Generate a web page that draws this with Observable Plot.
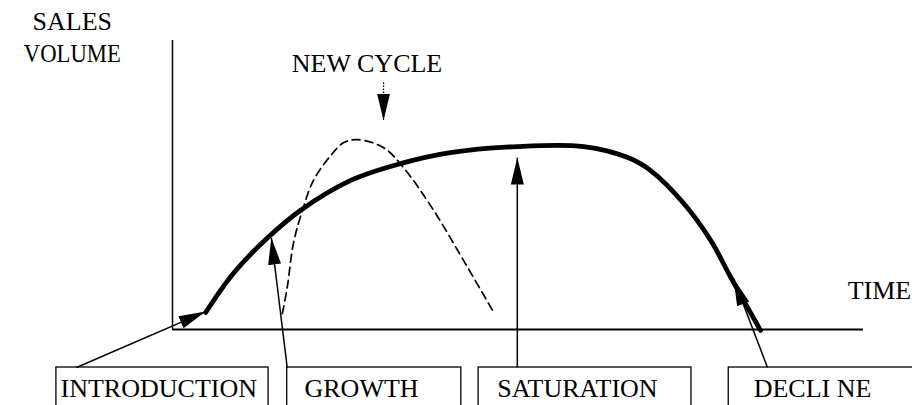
<!DOCTYPE html>
<html>
<head>
<meta charset="utf-8">
<script src="https://cdn.jsdelivr.net/npm/d3@7"></script>
<script src="https://cdn.jsdelivr.net/npm/@observablehq/plot@0.6"></script>
<style>
  html, body { margin: 0; padding: 0; background: #fff; }
  #chart svg { display: block; }
</style>
</head>
<body>
<div id="chart"></div>
<script>
// Product life cycle: time (0–100) vs sales volume (0–100)
const lifeTime  = [4.8, 8.8, 13.8, 18.5, 25.8, 33.0, 40.2, 49.9, 59.5, 65.9, 69.2, 74.0, 77.9, 80.8, 85.1];
const lifeSales = [5.9, 19.4, 31.8, 41.2, 51.6, 57.4, 61.2, 63.3, 63.3, 59.5, 55.0, 43.6, 30.8, 18.0, -0.3];

// New (replacement) cycle, dashed
const newTime  = [15.9, 16.6, 17.5, 18.8, 20.4, 22.9, 24.8, 26.8, 30.5, 33.4, 37.8, 42.7, 46.5];
const newSales = [5.5, 14.5, 29.8, 41.2, 51.6, 60.2, 64.7, 65.7, 63.0, 56.1, 41.2, 21.5, 5.9];

// Stages (boxes below the time axis)
const stages      = ["INTRODUCTION", "GROWTH", "SATURATION", "DECLI NE"];
const stageStart  = [-16.8, 16.6, 44.3, 80.5];
const stageEnd    = [13.9, 41.8, 75.1, 110];
const stageLabelX = [-16.2, 19.1, 47.0, 84.1];
const boxTop = -13.15, boxBottom = -32, labelSales = -23.2;

// Pointer arrows from each box to the curve
const arrowFromX = [-13.9, 16.6, 49.9, 86.1];
const arrowToX   = [4.8, 14.3, 49.9, 81.2];
const arrowToY   = [6.2, 31.8, 59.5, 17.6];

// Annotations
const axisLabels = [
  {text: "SALES\nVOLUME", t: -14.5, s: 92.4},
  {text: "NEW CYCLE", t: 28.15, s: 89.0},
  {text: "TIME", t: 102.3, s: 10.7}
];
const newCycleArrow = {t: 30.54, from: 85.5, to: 72.3};

const life = lifeTime.map((t, i) => ({t, s: lifeSales[i]}));
const newCycle = newTime.map((t, i) => ({t, s: newSales[i]}));
const boxes = stages.map((name, i) => ({name, x1: stageStart[i], x2: stageEnd[i], lx: stageLabelX[i]}));
const pointers = stages.map((name, i) => ({x1: arrowFromX[i], y1: boxTop, x2: arrowToX[i], y2: arrowToY[i]}));

const serif = "'Liberation Serif', 'Times New Roman', 'DejaVu Serif', serif";

const chart = Plot.plot({
  width: 912,
  height: 405,
  margin: 0,
  x: {domain: [0, 100], range: [172, 863], axis: null},
  y: {domain: [0, 100], range: [329, 40], axis: null},
  style: {fontFamily: serif, background: "#fff", color: "#000"},
  marks: [
    // axes
    Plot.ruleX([0], {y1: 0, y2: 100, stroke: "#000", strokeWidth: 1.5}),
    Plot.ruleY([0], {x1: 0, x2: 100, stroke: "#000", strokeWidth: 1.8}),
    // new cycle (dashed)
    Plot.line(newCycle, {x: "t", y: "s", curve: "catmull-rom", stroke: "#000", strokeWidth: 1.7, strokeDasharray: "8,5"}),
    // main life cycle curve
    Plot.line(life, {x: "t", y: "s", curve: "catmull-rom", stroke: "#000", strokeWidth: 4.8}),
    // stage boxes
    Plot.rect(boxes, {x1: "x1", x2: "x2", y1: boxBottom, y2: boxTop, fill: "none", stroke: "#000", strokeWidth: 1.3}),
    Plot.text(boxes, {x: "lx", y: labelSales, text: "name", textAnchor: "start", lineAnchor: "bottom", fontSize: 26, fill: "#000"}),
    // pointer arrows
    Plot.link(pointers, {x1: "x1", y1: "y1", x2: "x2", y2: "y2", stroke: "#000", strokeWidth: 1.5, markerEnd: "arrow"}),
    Plot.link([newCycleArrow], {x1: "t", x2: "t", y1: "from", y2: "to", stroke: "#000", strokeWidth: 1.3, strokeDasharray: "1.5,1.5", markerEnd: "arrow"}),
    // labels
    Plot.text(axisLabels, {x: "t", y: "s", text: "text", textAnchor: "middle", lineAnchor: "bottom", lineHeight: 1.23, fontSize: 26, fill: "#000"})
  ]
});

// Replace Plot's open arrow markers with filled triangular heads
d3.select(chart).selectAll("marker").each(function () {
  const m = d3.select(this);
  m.attr("viewBox", "-27 -6.5 27 13")
   .attr("markerUnits", "userSpaceOnUse")
   .attr("markerWidth", 27)
   .attr("markerHeight", 13)
   .attr("refX", 0).attr("refY", 0)
   .attr("fill", "#000").attr("stroke", "none");
  m.selectAll("*").remove();
  m.append("path").attr("d", "M-27,-6.5L0,0L-27,6.5Z");
});

// The reference's VOLUME is set tighter than the font's natural width
d3.select(chart).selectAll("tspan").filter(function () { return this.textContent === "VOLUME"; })
  .attr("textLength", 97).attr("lengthAdjust", "spacingAndGlyphs");

document.getElementById("chart").appendChild(chart);
</script>
</body>
</html>
